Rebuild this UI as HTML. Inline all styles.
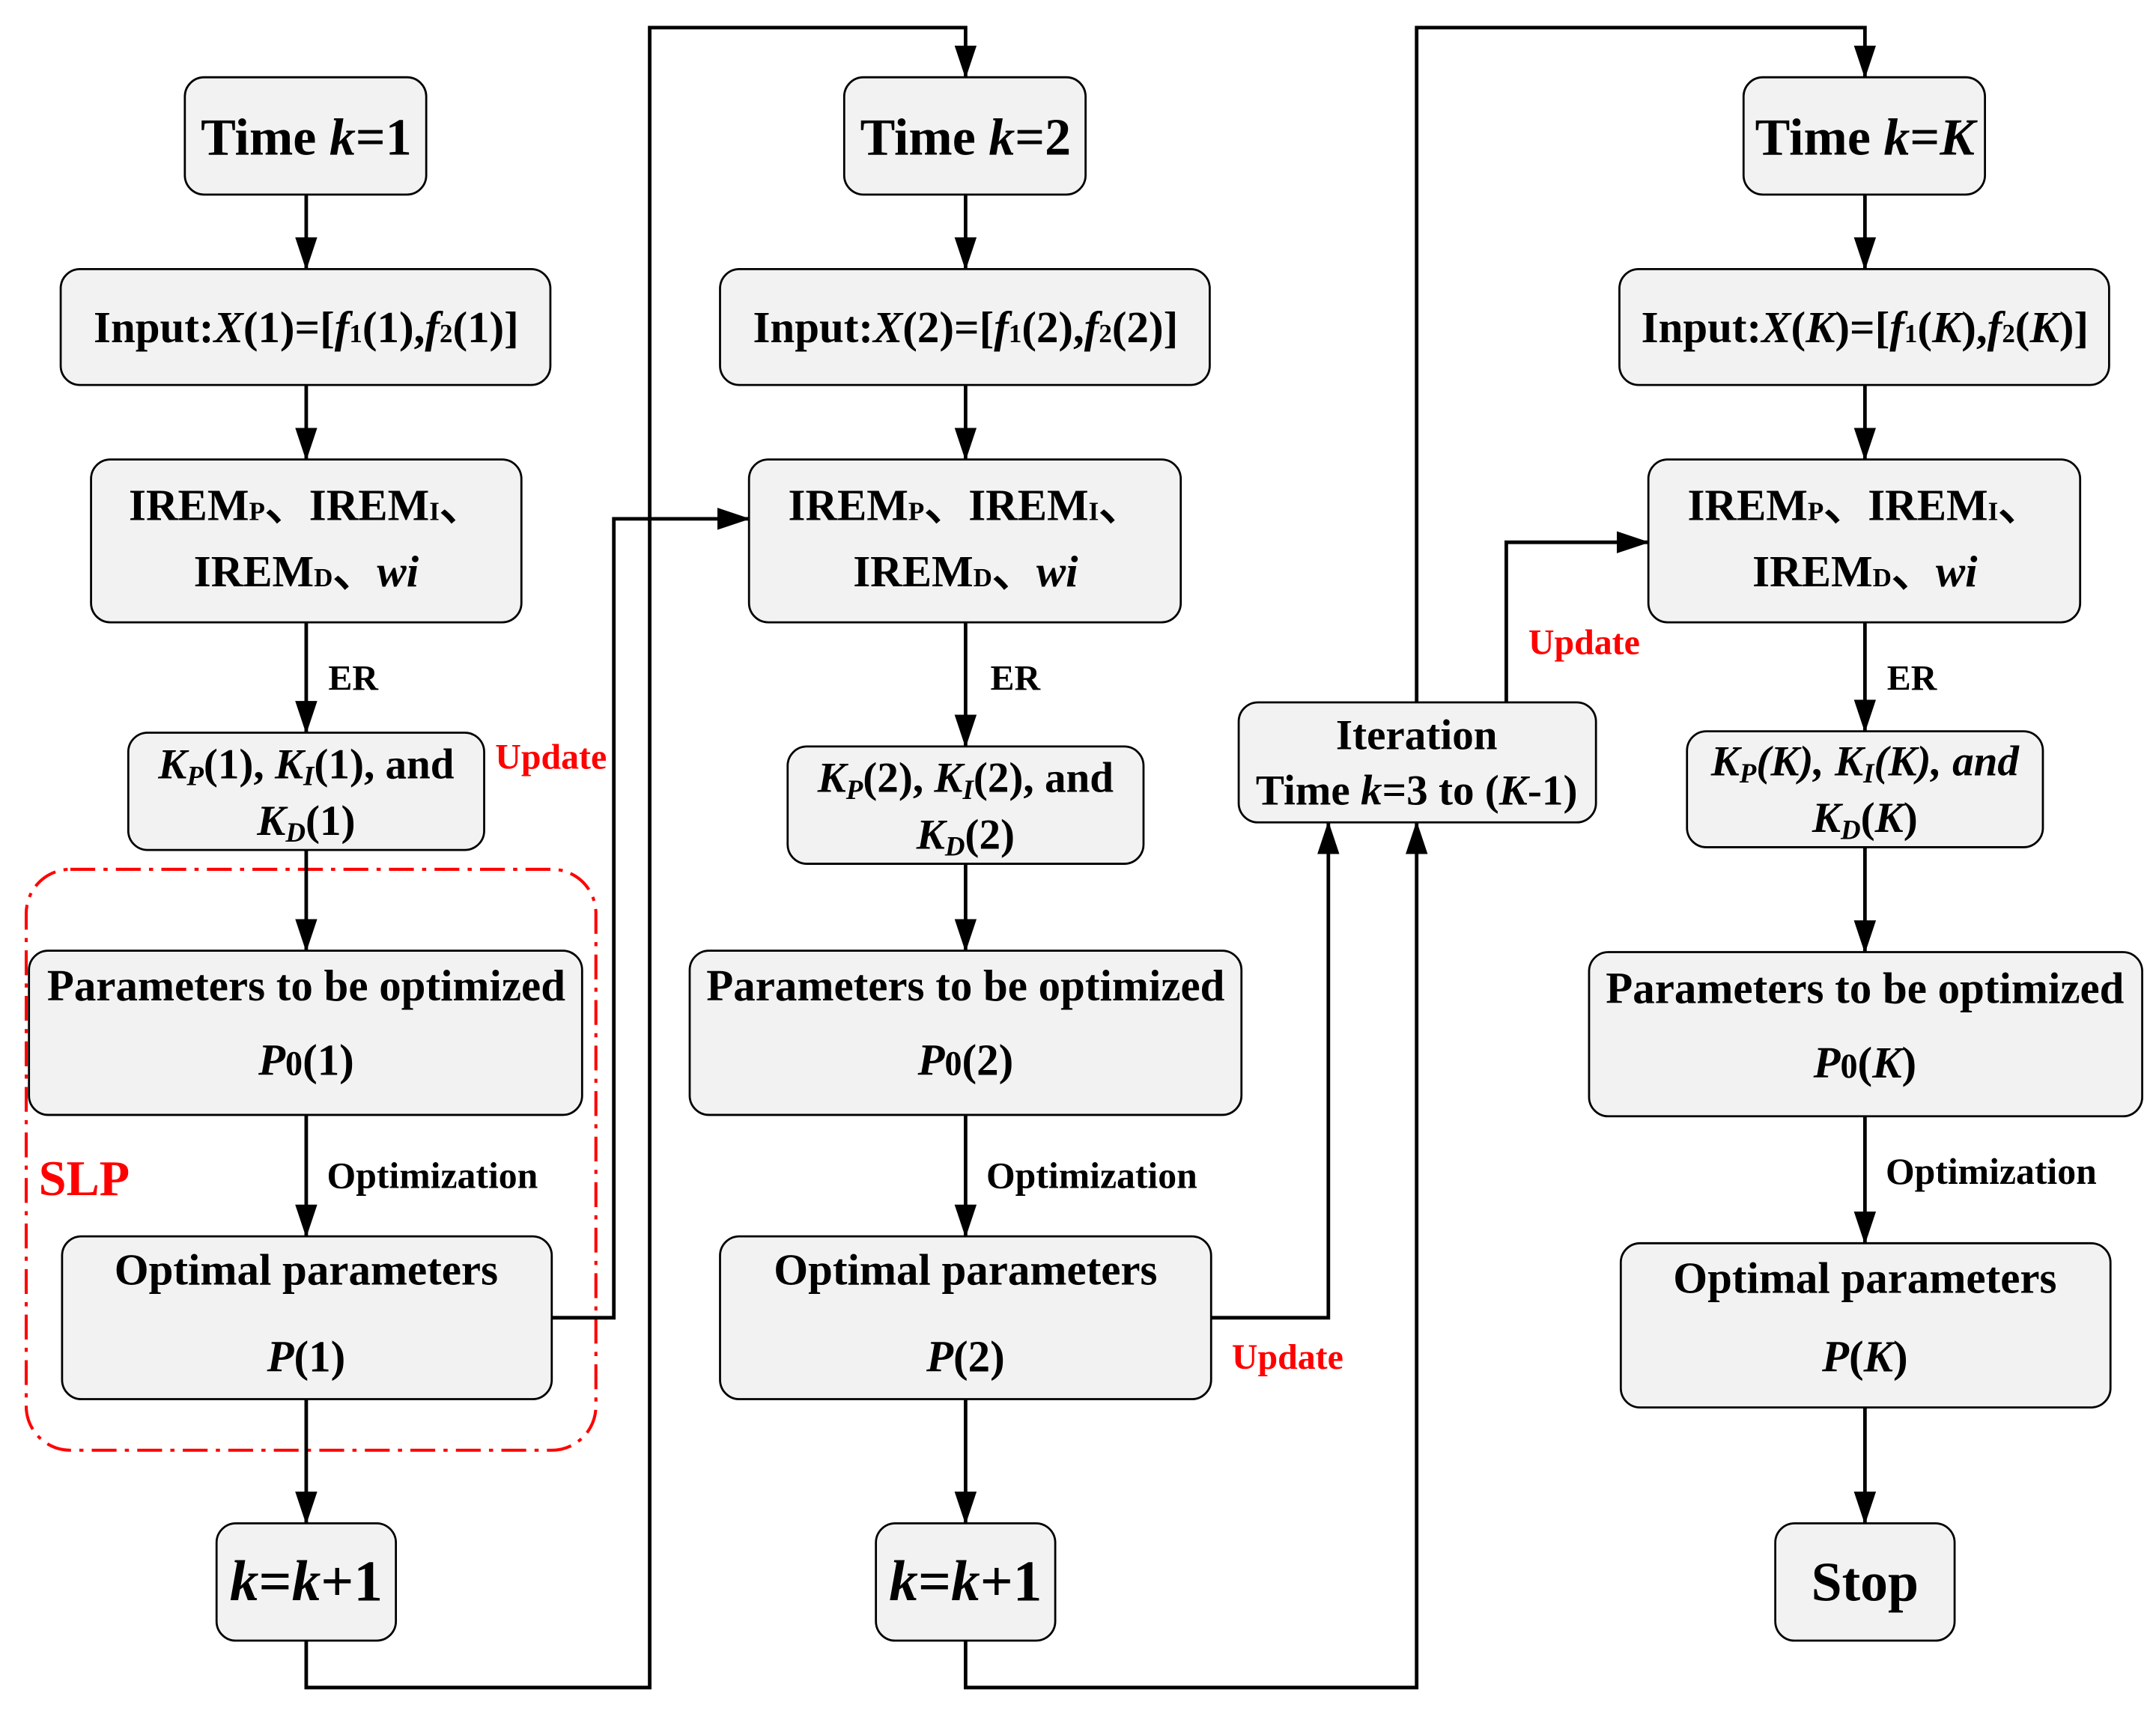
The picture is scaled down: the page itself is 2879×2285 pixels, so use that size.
<!DOCTYPE html>
<html><head><meta charset="utf-8"><style>
html,body{margin:0;padding:0;background:#fff;}
svg{display:block;}
text{font-family:"Liberation Serif",serif;font-weight:bold;fill:#000;}
.b{fill:#f2f2f2;stroke:#000;stroke-width:1.5;}
.l{fill:none;stroke:#000;stroke-width:2.6;}
.r{fill:#f00;}
</style></head><body>
<svg width="2879" height="2285" viewBox="0 0 1563 1240" preserveAspectRatio="none" xmlns="http://www.w3.org/2000/svg">
<defs>
<marker id="ah" markerWidth="24" markerHeight="16" refX="23" refY="8" orient="auto" markerUnits="userSpaceOnUse"><path d="M0,0 L24,8 L0,16 z" fill="#000"/></marker></defs>

<rect x="19" y="630" width="413" height="421" rx="32" fill="none" stroke="#f00" stroke-width="2.2" stroke-dasharray="18,6,3,6"/>
<text x="28" y="866" class="r" font-size="36">SLP</text>

<g class="l">
<line x1="222" y1="141" x2="222" y2="195" marker-end="url(#ah)"/>
<line x1="222" y1="279" x2="222" y2="333" marker-end="url(#ah)"/>
<line x1="222" y1="451" x2="222" y2="531" marker-end="url(#ah)"/>
<line x1="222" y1="616" x2="222" y2="689" marker-end="url(#ah)"/>
<line x1="222" y1="808" x2="222" y2="896" marker-end="url(#ah)"/>
<line x1="222" y1="1014" x2="222" y2="1104" marker-end="url(#ah)"/>

<line x1="700" y1="141" x2="700" y2="195" marker-end="url(#ah)"/>
<line x1="700" y1="279" x2="700" y2="333" marker-end="url(#ah)"/>
<line x1="700" y1="451" x2="700" y2="541" marker-end="url(#ah)"/>
<line x1="700" y1="626" x2="700" y2="689" marker-end="url(#ah)"/>
<line x1="700" y1="808" x2="700" y2="896" marker-end="url(#ah)"/>
<line x1="700" y1="1014" x2="700" y2="1104" marker-end="url(#ah)"/>

<line x1="1352" y1="141" x2="1352" y2="195" marker-end="url(#ah)"/>
<line x1="1352" y1="279" x2="1352" y2="333" marker-end="url(#ah)"/>
<line x1="1352" y1="451" x2="1352" y2="530" marker-end="url(#ah)"/>
<line x1="1352" y1="614" x2="1352" y2="690" marker-end="url(#ah)"/>
<line x1="1352" y1="809" x2="1352" y2="901" marker-end="url(#ah)"/>
<line x1="1352" y1="1020" x2="1352" y2="1104" marker-end="url(#ah)"/>

<polyline points="222,1189 222,1223 471,1223 471,20 700,20 700,56" marker-end="url(#ah)"/>
<polyline points="400,955 445,955 445,376 543,376" marker-end="url(#ah)"/>
<polyline points="700,1189 700,1223 1027,1223 1027,596" marker-end="url(#ah)"/>
<polyline points="878,955 963,955 963,596" marker-end="url(#ah)"/>
<polyline points="1027,509 1027,20 1352,20 1352,56" marker-end="url(#ah)"/>
<polyline points="1092,509 1092,393 1195,393" marker-end="url(#ah)"/>
</g>

<g class="b">
<rect x="134" y="56" width="175" height="85" rx="14"/>
<rect x="44" y="195" width="355" height="84" rx="14"/>
<rect x="66" y="333" width="312" height="118" rx="14"/>
<rect x="93" y="531" width="258" height="85" rx="14"/>
<rect x="21" y="689" width="401" height="119" rx="14"/>
<rect x="45" y="896" width="355" height="118" rx="14"/>
<rect x="157" y="1104" width="130" height="85" rx="14"/>

<rect x="612" y="56" width="175" height="85" rx="14"/>
<rect x="522" y="195" width="355" height="84" rx="14"/>
<rect x="543" y="333" width="313" height="118" rx="14"/>
<rect x="571" y="541" width="258" height="85" rx="14"/>
<rect x="500" y="689" width="400" height="119" rx="14"/>
<rect x="522" y="896" width="356" height="118" rx="14"/>
<rect x="635" y="1104" width="130" height="85" rx="14"/>

<rect x="1264" y="56" width="175" height="85" rx="14"/>
<rect x="1174" y="195" width="355" height="84" rx="14"/>
<rect x="1195" y="333" width="313" height="118" rx="14"/>
<rect x="1223" y="530" width="258" height="84" rx="14"/>
<rect x="1152" y="690" width="401" height="119" rx="14"/>
<rect x="1175" y="901" width="355" height="119" rx="14"/>
<rect x="1287" y="1104" width="130" height="85" rx="14"/>

<rect x="898" y="509" width="259" height="87" rx="14"/>
</g>

<g text-anchor="middle">
<text x="222" y="112" font-size="38">Time <tspan font-style="italic">k</tspan>=1</text>
<text x="222" y="248" font-size="32">Input:<tspan font-style="italic">X</tspan>(1)=[<tspan font-style="italic">f</tspan><tspan font-size="19">1</tspan>(1),<tspan font-style="italic">f</tspan><tspan font-size="19">2</tspan>(1)]</text>
<text x="222" y="377" font-size="32">IREM<tspan font-size="19">P</tspan>、IREM<tspan font-size="19">I</tspan>、</text>
<text x="222" y="425" font-size="32">IREM<tspan font-size="19">D</tspan>、<tspan font-style="italic">wi</tspan></text>
<text x="222" y="564" font-size="31"><tspan font-style="italic">K<tspan font-size="20" dy="5">P</tspan></tspan><tspan dy="-5">(1), </tspan><tspan font-style="italic">K<tspan font-size="20" dy="5">I</tspan></tspan><tspan dy="-5">(1), and</tspan></text>
<text x="222" y="605" font-size="31"><tspan font-style="italic">K<tspan font-size="20" dy="5">D</tspan></tspan><tspan dy="-5">(1)</tspan></text>
<text x="222" y="725" font-size="32">Parameters to be optimized</text>
<text x="222" y="779" font-size="32"><tspan font-style="italic">P</tspan><tspan font-size="25">0</tspan>(1)</text>
<text x="222" y="931" font-size="32">Optimal parameters</text>
<text x="222" y="994" font-size="32"><tspan font-style="italic">P</tspan>(1)</text>
<text x="222" y="1160" font-size="42"><tspan font-style="italic">k</tspan>=<tspan font-style="italic">k</tspan>+1</text>

<text x="700" y="112" font-size="38">Time <tspan font-style="italic">k</tspan>=2</text>
<text x="700" y="248" font-size="32">Input:<tspan font-style="italic">X</tspan>(2)=[<tspan font-style="italic">f</tspan><tspan font-size="19">1</tspan>(2),<tspan font-style="italic">f</tspan><tspan font-size="19">2</tspan>(2)]</text>
<text x="700" y="377" font-size="32">IREM<tspan font-size="19">P</tspan>、IREM<tspan font-size="19">I</tspan>、</text>
<text x="700" y="425" font-size="32">IREM<tspan font-size="19">D</tspan>、<tspan font-style="italic">wi</tspan></text>
<text x="700" y="574" font-size="31"><tspan font-style="italic">K<tspan font-size="20" dy="5">P</tspan></tspan><tspan dy="-5">(2), </tspan><tspan font-style="italic">K<tspan font-size="20" dy="5">I</tspan></tspan><tspan dy="-5">(2), and</tspan></text>
<text x="700" y="615" font-size="31"><tspan font-style="italic">K<tspan font-size="20" dy="5">D</tspan></tspan><tspan dy="-5">(2)</tspan></text>
<text x="700" y="725" font-size="32">Parameters to be optimized</text>
<text x="700" y="779" font-size="32"><tspan font-style="italic">P</tspan><tspan font-size="25">0</tspan>(2)</text>
<text x="700" y="931" font-size="32">Optimal parameters</text>
<text x="700" y="994" font-size="32"><tspan font-style="italic">P</tspan>(2)</text>
<text x="700" y="1160" font-size="42"><tspan font-style="italic">k</tspan>=<tspan font-style="italic">k</tspan>+1</text>

<text x="1352" y="112" font-size="38">Time <tspan font-style="italic">k</tspan>=<tspan font-style="italic">K</tspan></text>
<text x="1352" y="248" font-size="32">Input:<tspan font-style="italic">X</tspan>(<tspan font-style="italic">K</tspan>)=[<tspan font-style="italic">f</tspan><tspan font-size="19">1</tspan>(<tspan font-style="italic">K</tspan>),<tspan font-style="italic">f</tspan><tspan font-size="19">2</tspan>(<tspan font-style="italic">K</tspan>)]</text>
<text x="1352" y="377" font-size="32">IREM<tspan font-size="19">P</tspan>、IREM<tspan font-size="19">I</tspan>、</text>
<text x="1352" y="425" font-size="32">IREM<tspan font-size="19">D</tspan>、<tspan font-style="italic">wi</tspan></text>
<text x="1352" y="562" font-size="31" font-style="italic">K<tspan font-size="20" dy="5">P</tspan><tspan dy="-5">(</tspan>K), K<tspan font-size="20" dy="5">I</tspan><tspan dy="-5">(</tspan>K), and</text>
<text x="1352" y="603" font-size="31"><tspan font-style="italic">K<tspan font-size="20" dy="5">D</tspan></tspan><tspan dy="-5">(</tspan><tspan font-style="italic">K</tspan>)</text>
<text x="1352" y="727" font-size="32">Parameters to be optimized</text>
<text x="1352" y="781" font-size="32"><tspan font-style="italic">P</tspan><tspan font-size="25">0</tspan>(<tspan font-style="italic">K</tspan>)</text>
<text x="1352" y="937" font-size="32">Optimal parameters</text>
<text x="1352" y="994" font-size="32"><tspan font-style="italic">P</tspan>(<tspan font-style="italic">K</tspan>)</text>
<text x="1352" y="1160" font-size="40">Stop</text>

<text x="1027" y="543" font-size="31">Iteration</text>
<text x="1027" y="583" font-size="31">Time <tspan font-style="italic">k</tspan>=3 to (<tspan font-style="italic">K</tspan>-1)</text>
</g>

<text x="238" y="500" font-size="26">ER</text>
<text x="718" y="500" font-size="26">ER</text>
<text x="1368" y="500" font-size="26">ER</text>
<text x="237" y="861" font-size="27">Optimization</text>
<text x="715" y="861" font-size="27">Optimization</text>
<text x="1367" y="858" font-size="27">Optimization</text>
<text x="359" y="557" font-size="26" class="r">Update</text>
<text x="1108" y="474" font-size="26" class="r">Update</text>
<text x="893" y="992" font-size="26" class="r">Update</text>
</svg>
</body></html>
